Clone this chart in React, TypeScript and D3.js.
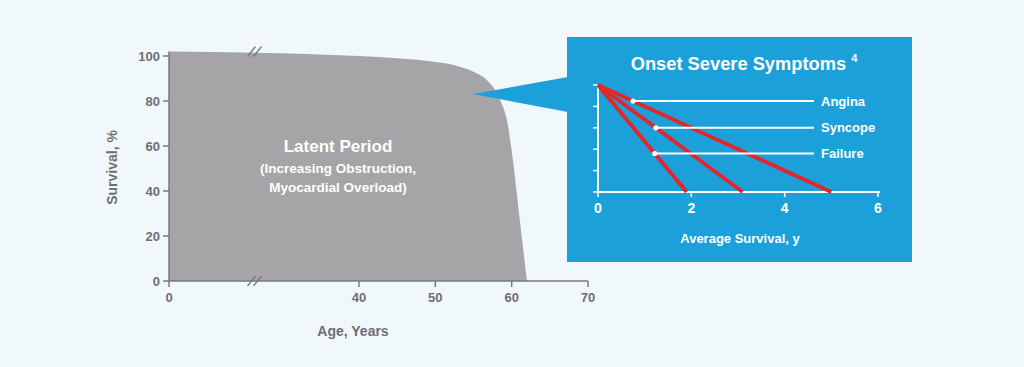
import React from "react";
import * as d3 from "d3";

// Main chart data
const ages = [0, 40, 45, 50, 53, 55, 57, 58.5, 59.5, 60, 61, 62];
const survival = [102, 100, 99, 97.3, 95.5, 93, 88.4, 80.4, 69.3, 58, 29, 0];
const xTicks = [0, 40, 50, 60, 70];
const yTicks = [0, 20, 40, 60, 80, 100];
const breakAge = 18;

// Inset data
const symptoms = ["Angina", "Syncope", "Failure"];
const avgSurvivalEnd = [5.0, 3.1, 1.9];
const labelLevels = [85, 60, 36];
const insetXTicks = [0, 2, 4, 6];
const insetYTicks = [0, 20, 40, 60, 80, 100];

const W = 1024;
const H = 367;
const FONT = "'Liberation Sans', Arial, Helvetica, sans-serif";
const GRAY_TEXT = "#6e6f72";
const AXIS = "#7a7a7c";
const FILL = "#a5a5a7";
const BLUE = "#1ca0da";
const RED = "#e2272c";

export default function App() {
  const x = d3.scaleLinear().domain([0, 40, 70]).range([169, 359, 588]);
  const y = d3.scaleLinear().domain([0, 100]).range([281, 56]);

  const pts: [number, number][] = ages.map((a, i) => [a, survival[i]]);
  const area = d3
    .area<[number, number]>()
    .x((d) => x(d[0]))
    .y0(y(0))
    .y1((d) => y(d[1]))
    .curve(d3.curveMonotoneX)(pts) as string;

  const ix = d3.scaleLinear().domain([0, 6]).range([598, 878]);
  const iy = d3.scaleLinear().domain([0, 100]).range([192, 85]);

  const bx = x(breakAge);
  const breakMark = (cy: number) => (
    <g stroke={AXIS} strokeWidth={1.3}>
      <line x1={bx - 7} y1={cy + 5} x2={bx + 1} y2={cy - 5} />
      <line x1={bx - 1} y1={cy + 5} x2={bx + 7} y2={cy - 5} />
    </g>
  );

  return (
    <svg
      width={W}
      height={H}
      style={{ position: "absolute", left: 0, top: 0, display: "block" }}
      fontFamily={FONT}
    >
      <rect x={0} y={0} width={W} height={H} fill="#f0f8fc" />

      {/* Survival area */}
      <path d={area} fill={FILL} />

      {/* Y axis */}
      <line x1={x(0)} x2={x(0)} y1={y(102)} y2={y(0)} stroke={AXIS} strokeWidth={1.5} />
      {yTicks.map((t) => (
        <g key={"yt" + t}>
          <line x1={x(0) - 6} x2={x(0)} y1={y(t)} y2={y(t)} stroke={AXIS} strokeWidth={1.5} />
          <text
            x={x(0) - 9}
            y={y(t)}
            dy="0.35em"
            textAnchor="end"
            fontSize={13}
            fontWeight="bold"
            fill={GRAY_TEXT}
          >
            {t}
          </text>
        </g>
      ))}
      <text
        transform={`translate(117,${(y(0) + y(100)) / 2 - 1}) rotate(-90)`}
        textAnchor="middle"
        fontSize={14}
        fontWeight="bold"
        fill={GRAY_TEXT}
      >
        Survival, %
      </text>

      {/* X axis */}
      <line x1={x(0)} x2={x(70)} y1={y(0)} y2={y(0)} stroke={AXIS} strokeWidth={1.5} />
      {xTicks.map((t) => (
        <g key={"xt" + t}>
          <line x1={x(t)} x2={x(t)} y1={y(0)} y2={y(0) + 6} stroke={AXIS} strokeWidth={1.5} />
          <text
            x={x(t)}
            y={y(0) + 21}
            textAnchor="middle"
            fontSize={13}
            fontWeight="bold"
            fill={GRAY_TEXT}
          >
            {t}
          </text>
        </g>
      ))}
      <text x={353} y={336} textAnchor="middle" fontSize={14} fontWeight="bold" fill={GRAY_TEXT}>
        Age, Years
      </text>

      {breakMark(y(102))}
      {breakMark(y(0))}

      {/* Area labels */}
      <text x={338} y={152} textAnchor="middle" fontSize={17} fontWeight="bold" fill="#ffffff">
        Latent Period
      </text>
      <text x={338} y={173} textAnchor="middle" fontSize={13.5} fontWeight="bold" fill="#ffffff">
        (Increasing Obstruction,
      </text>
      <text x={338} y={192} textAnchor="middle" fontSize={13.5} fontWeight="bold" fill="#ffffff">
        Myocardial Overload)
      </text>

      {/* Pointer */}
      <polygon points="473,94 568,77 568,112" fill={BLUE} />

      {/* Inset box */}
      <rect x={567} y={37} width={345} height={225} fill={BLUE} />
      <text x={744} y={70} textAnchor="middle" fontSize={18.3} fontWeight="bold" fill="#ffffff">
        Onset Severe Symptoms
        <tspan fontSize={11} dx={5} dy={-8}>
          4
        </tspan>
      </text>

      {/* Inset axes */}
      <line x1={ix(0)} x2={ix(0)} y1={iy(100)} y2={iy(0)} stroke="#fff" strokeWidth={2} />
      <line x1={ix(0)} x2={ix(6) + 2} y1={iy(0)} y2={iy(0)} stroke="#fff" strokeWidth={2} />
      {insetYTicks.map((t) => (
        <line key={"iyt" + t} x1={ix(0) - 5} x2={ix(0)} y1={iy(t)} y2={iy(t)} stroke="#fff" strokeWidth={1.5} />
      ))}
      {insetXTicks.map((t) => (
        <g key={"ixt" + t}>
          <line x1={ix(t)} x2={ix(t)} y1={iy(0)} y2={iy(0) + 5} stroke="#fff" strokeWidth={1.5} />
          <text x={ix(t)} y={213} textAnchor="middle" fontSize={14} fontWeight="bold" fill="#fff">
            {t}
          </text>
        </g>
      ))}
      <text x={740} y={243} textAnchor="middle" fontSize={13} fontWeight="bold" fill="#fff">
        Average Survival, y
      </text>

      {/* Red survival lines */}
      {avgSurvivalEnd.map((e, i) => (
        <line
          key={"rl" + i}
          x1={ix(0)}
          y1={iy(100)}
          x2={ix(e)}
          y2={iy(0)}
          stroke={RED}
          strokeWidth={4}
          strokeLinecap="butt"
        />
      ))}

      {/* Labels */}
      {symptoms.map((s, i) => {
        const lv = labelLevels[i];
        const dx = avgSurvivalEnd[i] * (1 - lv / 100);
        return (
          <g key={"lab" + s}>
            <line x1={ix(dx)} x2={814} y1={iy(lv)} y2={iy(lv)} stroke="#fff" strokeWidth={2} />
            <circle cx={ix(dx)} cy={iy(lv)} r={2.6} fill="#fff" />
            <text x={821} y={iy(lv)} dy="0.36em" fontSize={13} fontWeight="bold" fill="#fff">
              {s}
            </text>
          </g>
        );
      })}
    </svg>
  );
}
